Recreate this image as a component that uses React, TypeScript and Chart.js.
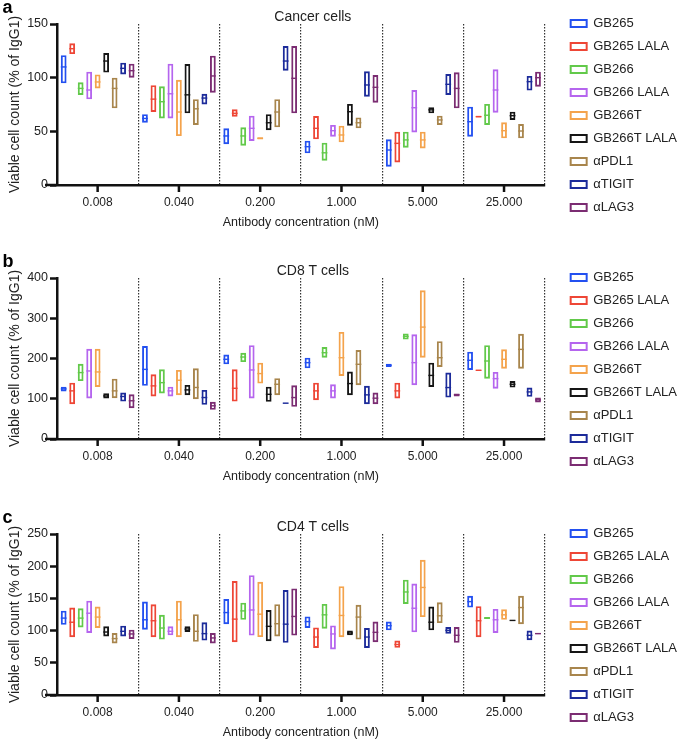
import React, { useEffect, useRef } from 'react';
import { Chart, registerables } from 'chart.js';

Chart.register(...registerables);
Chart.defaults.font.family = "'Liberation Sans', Arial, Helvetica, sans-serif";
Chart.defaults.color = '#222';

const concentrations = ['0.008', '0.040', '0.200', '1.000', '5.000', '25.000'];
const seriesNames = ['GB265', 'GB265 LALA', 'GB266', 'GB266 LALA', 'GB266T', 'GB266T LALA', 'αPDL1', 'αTIGIT', 'αLAG3'];
const seriesColors = ['#2350f0', '#ee4636', '#62c94a', '#b565ee', '#f4a34c', '#151515', '#a8854c', '#1c2b9a', '#7b2c72'];

// rows follow seriesNames, columns follow concentrations
const cancerLow = [
  [94.7, 58, 38, 29.5, 17, 45],
  [122, 68, 63.7, 42.6, 21, 63],
  [83.9, 62, 36.6, 22.7, 34.8, 56],
  [79.8, 62, 41, 45, 49, 67.4],
  [90, 45.6, 42.5, 39.8, 34, 43.5],
  [104.7, 66.8, 51, 55.3, 66.8, 60.6],
  [71.4, 56, 53.7, 52.8, 56, 43.5],
  [103, 75, 106.5, 82.3, 83.9, 88],
  [100, 86, 66.8, 76.7, 71.4, 91.6],
];
const cancerHigh = [
  [121, 66, 52.8, 41.3, 42.6, 73],
  [132, 93, 70.5, 64.3, 49.7, 64.5],
  [95.7, 92, 53.7, 39.4, 49.7, 75.5],
  [105.6, 113, 64.6, 56, 88.5, 107.8],
  [103, 98, 44.5, 55.3, 49.7, 58.4],
  [123, 112.7, 66, 75.5, 72.4, 68.3],
  [100, 80, 80, 63, 64.6, 56.8],
  [114, 85, 129.5, 106, 103.4, 101.6],
  [113, 120.5, 129.5, 102.5, 105, 105.6],
];
const cancerMedian = [
  [110, 62, 45.7, 35.7, 32.6, 59],
  [127, 80, 66.8, 52.8, 38.8, 63.7],
  [90, 77.6, 45.7, 30, 42, 65],
  [88.5, 85, 52.8, 50.6, 72, 88.5],
  [96, 68, 43.5, 46.6, 42, 50.6],
  [115.5, 84, 58, 68.3, 70, 64.6],
  [90, 71, 68, 58, 60.6, 50.3],
  [108.7, 81, 115.5, 93.2, 93.8, 96.3],
  [106.5, 101.6, 99.4, 91, 90, 100],
];

const cd8Low = [
  [118, 132, 185.6, 175.7, 179, 171.5],
  [86.6, 105.6, 93, 96.5, 100.6, 169],
  [144, 113, 191, 202, 247, 150],
  [100.6, 105.6, 100.6, 100.6, 133.6, 125],
  [129.5, 109, 137.7, 156.7, 202, 174.8],
  [100.6, 109, 92.4, 109, 129.5, 127.8],
  [101.4, 99, 109, 133.6, 179, 174.8],
  [93, 85, 88, 86.6, 103, 104.7],
  [76.7, 72.6, 80, 86.6, 105.6, 90.7],
];
const cd8High = [
  [130, 231, 210, 202, 187, 217],
  [140, 160.8, 173, 140, 140, 172],
  [187, 173, 214, 228.4, 262, 233],
  [224, 130, 233, 136, 260, 166.6],
  [224, 171.5, 189.7, 266, 369.5, 222.7],
  [113.8, 134.4, 130, 167.4, 189.7, 144],
  [150, 175.7, 151, 221, 243, 261.4],
  [115.5, 122, 90, 132, 165, 127.8],
  [111, 92.4, 133.6, 115.5, 113, 103],
];
const cd8Median = [
  [124.5, 173, 198, 189.7, 183, 195.5],
  [119.6, 132, 126, 119.6, 119.6, 170.7],
  [165, 140, 203.7, 214.4, 254.8, 193.8],
  [169, 119.6, 171.5, 119.6, 189.7, 150],
  [166.6, 146, 162.5, 202, 278, 198],
  [107, 122, 111, 137.7, 158, 136],
  [119.6, 128, 136, 185.6, 202, 222.7],
  [105.6, 103, 89, 109.7, 127.8, 117],
  [95, 82.5, 103, 101.4, 109.7, 97.3],
];

const cd4Low = [
  [109, 101.4, 110, 104, 100.4, 135.8],
  [89.7, 89.7, 82, 73, 73.3, 89.7],
  [105, 86, 116.8, 103, 141.4, 118],
  [96.3, 92.7, 92.2, 70.7, 97.3, 96.3],
  [104, 89.7, 90, 89.7, 121, 116.8],
  [91, 97.8, 83.5, 92.7, 100.4, 115],
  [80, 82.5, 91, 86, 111.7, 110],
  [91, 84.5, 81, 73, 95.3, 85],
  [87, 80, 92.2, 82, 81, 94.5],
];
const cd4High = [
  [131, 145, 149, 122, 114, 154],
  [135.8, 140.9, 177, 105, 84.5, 138],
  [134.7, 124.5, 143.4, 141.4, 179, 121],
  [146.5, 106.6, 186, 108, 173, 133.7],
  [137.3, 146.5, 175.7, 169, 210, 133],
  [106.6, 106.6, 132, 100, 137.3, 116.6],
  [96.3, 125.5, 141, 140, 144, 154],
  [107.6, 113, 163, 104, 105.5, 100],
  [101.4, 96.3, 165.5, 114, 105.5, 96.3],
];
const cd4Median = [
  [119.4, 116.8, 128, 114, 107.6, 145],
  [113, 115.3, 117.8, 90, 78.4, 115.3],
  [119.4, 104, 130.6, 124.5, 160, 119.4],
  [127, 98.9, 132, 94.8, 134.7, 116.8],
  [121, 116.8, 125.5, 123.5, 167, 124.5],
  [97.8, 102.5, 106.6, 96.3, 113, 115.8],
  [87.6, 98.9, 110.7, 121, 123, 135.8],
  [98.9, 95.3, 110, 90, 100.4, 92.7],
  [94.8, 88.6, 122, 97.3, 92.7, 95.3],
];

const FONT = "'Liberation Sans', Arial, Helvetica, sans-serif";
const LEGEND_GAP = 14;
const LEGEND_SHIFT = 16;

type PanelProps = {
  top: number;
  letter: string;
  title: string;
  low: number[][];
  high: number[][];
  median: number[][];
  yMax: number;
  yStep: number;
};

function Panel(p: PanelProps) {
  const ref = useRef<HTMLCanvasElement>(null);

  useEffect(() => {
    const canvas = ref.current;
    if (!canvas) return;

    const medianPlugin = {
      id: 'medianLines',
      afterDatasetsDraw(chart: any) {
        const ctx = chart.ctx;
        const yScale = chart.scales.y;
        chart.data.datasets.forEach((ds: any, i: number) => {
          const meta = chart.getDatasetMeta(i);
          meta.data.forEach((bar: any, j: number) => {
            const py = yScale.getPixelForValue(p.median[i][j]);
            const w = bar.width;
            ctx.save();
            ctx.strokeStyle = ds.borderColor;
            ctx.lineWidth = 1.4;
            ctx.beginPath();
            ctx.moveTo(bar.x - w / 2, py);
            ctx.lineTo(bar.x + w / 2, py);
            ctx.stroke();
            ctx.restore();
          });
        });
      },
    };

    const axisPlugin = {
      id: 'axisExtras',
      afterDraw(chart: any) {
        const ctx = chart.ctx;
        const xScale = chart.scales.x;
        const area = chart.chartArea;
        ctx.save();
        ctx.strokeStyle = '#111';
        ctx.lineWidth = 2.5;
        ctx.beginPath();
        for (let j = 0; j < concentrations.length; j++) {
          const px = xScale.getPixelForValue(j);
          ctx.moveTo(px, area.bottom);
          ctx.lineTo(px, area.bottom + 7);
        }
        ctx.moveTo(area.left - 12, area.bottom);
        ctx.lineTo(area.left, area.bottom);
        ctx.stroke();
        ctx.restore();
      },
    };

    // widen the legend box so the plot ends before it, then move the legend back
    const layoutTweaks = {
      id: 'layoutTweaks',
      beforeLayout(chart: any) {
        const lg = chart.legend;
        if (lg && !lg.__wrapped) {
          const orig = lg.fit.bind(lg);
          lg.fit = () => {
            orig();
            lg.width += LEGEND_GAP;
          };
          lg.__wrapped = true;
        }
      },
      afterLayout(chart: any) {
        const lg = chart.legend;
        if (lg) {
          lg.left += LEGEND_SHIFT;
          lg.right += LEGEND_SHIFT;
        }
        const t = chart.titleBlock;
        if (t) {
          t.left += 12;
          t.right += 12;
        }
      },
    };

    const chart = new Chart(canvas, {
      type: 'bar',
      data: {
        labels: concentrations,
        datasets: seriesNames.map((name, i) => ({
          label: name,
          data: p.low[i].map((lo, j) => [lo, p.high[i][j]]),
          borderColor: seriesColors[i],
          backgroundColor: 'rgba(255,255,255,0)',
          borderWidth: 1.9,
          borderSkipped: false,
          barPercentage: 0.68,
          categoryPercentage: 0.94,
        })) as any,
      },
      options: {
        responsive: false,
        animation: false,
        layout: { padding: { top: 7, left: 7, right: 0, bottom: 0 } },
        plugins: {
          title: {
            display: true,
            text: p.title,
            fullSize: false,
            color: '#222',
            font: { size: 14, weight: 'normal', lineHeight: 1.0, family: FONT },
            padding: { top: 3, bottom: 0 },
          },
          legend: {
            position: 'right',
            align: 'start',
            labels: {
              boxWidth: 16,
              boxHeight: 7,
              padding: 10,
              color: '#222',
              font: { size: 13, family: FONT },
              generateLabels: (chart: any) =>
                (Chart.defaults.plugins.legend.labels.generateLabels as any)(chart).map((l: any) => ({
                  ...l,
                  lineWidth: 2,
                })),
            },
          },
          tooltip: { enabled: false },
        },
        scales: {
          x: {
            type: 'category',
            offset: true,
            grid: {
              display: true,
              drawOnChartArea: true,
              drawTicks: false,
              offset: true,
              color: '#333',
              lineWidth: 1.2,
              borderDash: [1.5, 1.5],
            } as any,
            border: { display: true, color: '#111', width: 2.5, dash: [1.5, 1.5] },
            ticks: { color: '#222', font: { size: 12, family: FONT }, padding: 10, maxRotation: 0, autoSkip: false },
            title: {
              display: true,
              text: 'Antibody concentration (nM)',
              color: '#222',
              font: { size: 12.5, family: FONT },
              padding: { top: 4, bottom: 4 },
            },
            afterFit: (s: any) => {
              s.height = 49;
            },
          },
          y: {
            type: 'linear',
            position: 'left',
            min: 0,
            max: p.yMax,
            ticks: { stepSize: p.yStep, color: '#222', font: { size: 12.5, family: FONT }, padding: 2 },
            grid: { drawOnChartArea: false, drawTicks: true, tickLength: 7, tickWidth: 2.5, tickColor: '#111' },
            border: { display: true, color: '#111', width: 2.5 },
            title: {
              display: true,
              text: 'Viable cell count (% of IgG1)',
              color: '#222',
              font: { size: 14, family: FONT },
              padding: { top: 0, bottom: 0 },
            },
            afterFit: (s: any) => {
              s.width = 50;
            },
          },
        },
      } as any,
      plugins: [medianPlugin, axisPlugin, layoutTweaks],
    });

    return () => chart.destroy();
  }, []);

  return (
    <div style={{ position: 'absolute', left: 0, top: p.top, width: 685, height: 234 }}>
      <canvas ref={ref} width={685} height={234} style={{ width: 685, height: 234, display: 'block' }} />
      <div
        style={{
          position: 'absolute',
          left: 2.5,
          top: -2,
          font: `bold 18px ${FONT}`,
          lineHeight: '18px',
          color: '#000',
        }}
      >
        {p.letter}
      </div>
    </div>
  );
}

export default function App() {
  return (
    <div
      style={{
        position: 'absolute',
        left: 0,
        top: 0,
        width: 685,
        height: 743,
        overflow: 'hidden',
        background: '#fff',
      }}
    >
      <Panel top={0} letter="a" title="Cancer cells" low={cancerLow} high={cancerHigh} median={cancerMedian} yMax={150} yStep={50} />
      <Panel top={254} letter="b" title="CD8 T cells" low={cd8Low} high={cd8High} median={cd8Median} yMax={400} yStep={100} />
      <Panel top={510} letter="c" title="CD4 T cells" low={cd4Low} high={cd4High} median={cd4Median} yMax={250} yStep={50} />
    </div>
  );
}
